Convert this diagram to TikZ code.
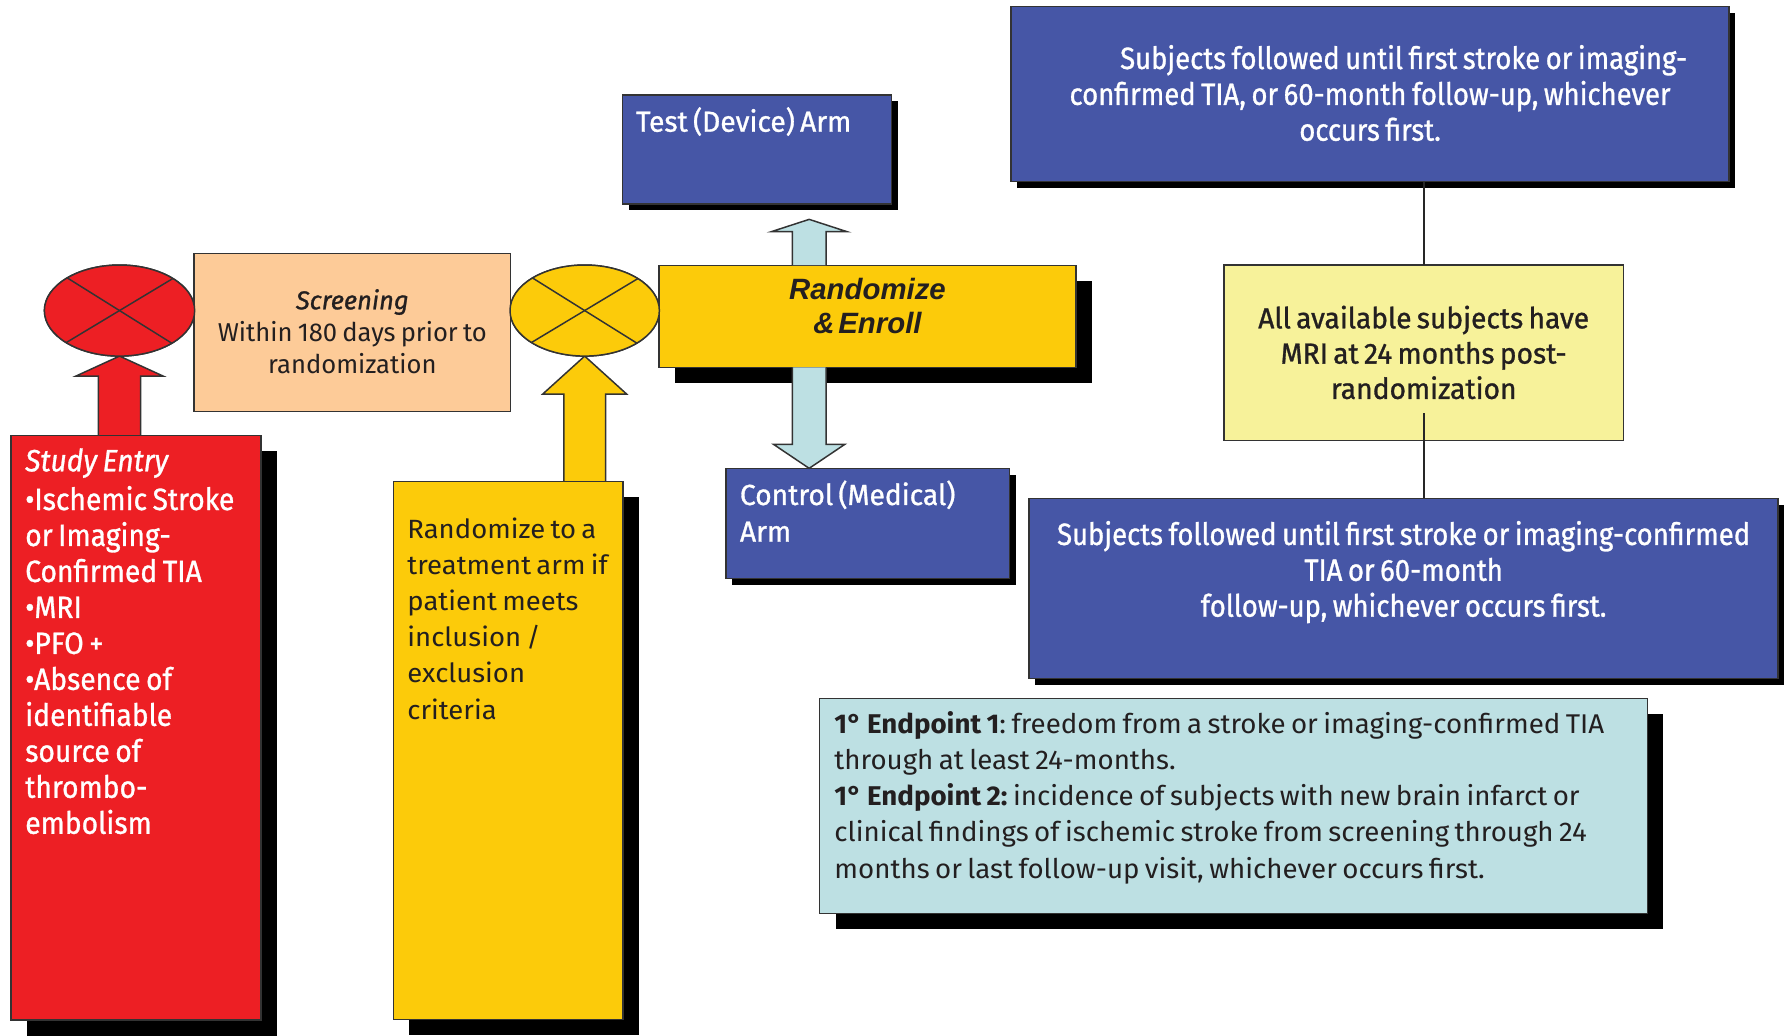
\documentclass[tikz,border=0pt]{standalone}
\usepackage{fontspec}
\setmainfont{Fira Sans}
\newfontfamily\whitef[FakeStretch=0.894,FakeBold=1]{Fira Sans}
\newfontfamily\redf[FakeStretch=0.919,FakeBold=1]{Fira Sans}
\newfontfamily\armf[FakeStretch=0.972,FakeBold=1]{Fira Sans}
\newfontfamily\widef[FakeStretch=1.022]{Fira Sans}
\newfontfamily\tallf[FakeStretch=1.04]{Fira Sans}
\newfontfamily\scrf[FakeStretch=0.99]{Fira Sans}
\newfontfamily\medf[FakeStretch=0.99,FakeBold=1]{Fira Sans}
\newfontfamily\arialf{Liberation Sans}
\newcommand\setsp[1]{\spaceskip=#1\relax\xspaceskip=#1\relax}
\usetikzlibrary{shapes.geometric,shadows,calc}

\definecolor{cred}{HTML}{ED1F24}
\definecolor{cpeach}{HTML}{FDCB98}
\definecolor{cgold}{HTML}{FCCB0A}
\definecolor{cblue}{HTML}{4656A6}
\definecolor{clyel}{HTML}{F7F29A}
\definecolor{clblue}{HTML}{BDE0E3}
\definecolor{ctext}{HTML}{231F20}
\definecolor{cedge}{HTML}{333333}

\begin{document}
\begin{tikzpicture}[x=1pt,y=-1pt,
  box/.style={draw=cedge, line width=1.3pt, anchor=north west, inner sep=0pt, outer sep=0pt},
  bigshadow/.style={drop shadow={shadow xshift=14pt, shadow yshift=-14pt, opacity=1, fill=black}},
  smallshadow/.style={drop shadow={shadow xshift=5.5pt, shadow yshift=-5.5pt, opacity=1, fill=black}},
  oval/.style={ellipse, draw=cedge, line width=1.3pt, inner sep=0pt, outer sep=0pt},
  blockarrow/.style={draw=cedge, line width=1.3pt, line join=miter},
  cross/.style={draw=cedge, line width=1.3pt},
  link/.style={draw=black!85, line width=1.5pt},
  txt/.style={inner sep=0pt, outer sep=0pt, anchor=base west, align=left},
  ctxt/.style={inner sep=0pt, outer sep=0pt, anchor=base, align=center},
]
\useasboundingbox (0,0) rectangle (1568,910);
\fill[white] (0,0) rectangle (1568,910);

% ---------- block arrows drawn below boxes ----------
\node[oval, minimum width=132pt, minimum height=80pt] (redell) at (105,272.8) {};
\node[oval, minimum width=131.2pt, minimum height=80pt] (yelell) at (513.6,272.8) {};
\path (0,382.5) coordinate (entrytop);
\path (0,422.8) coordinate (ytalltop);

\draw[blockarrow, fill=cred]
  ($(redell.south |- entrytop)+(-18.5,0)$) -- ($(redell.south)+(-18.5,17.6)$)
  -- ($(redell.south)+(-38.4,17.6)$) -- (redell.south)
  -- ($(redell.south)+(38.4,17.6)$) -- ($(redell.south)+(18.5,17.6)$)
  -- ($(redell.south |- entrytop)+(18.5,0)$);
\draw[blockarrow, fill=cgold]
  ($(yelell.south |- ytalltop)+(-18.3,0)$) -- ($(yelell.south)+(-18.3,33.4)$)
  -- ($(yelell.south)+(-36.9,33.4)$) -- (yelell.south)
  -- ($(yelell.south)+(36.9,33.4)$) -- ($(yelell.south)+(18.3,33.4)$)
  -- ($(yelell.south |- ytalltop)+(18.3,0)$);

% ---------- boxes ----------
\node[box, fill=cred, bigshadow, minimum width=219.8pt, minimum height=513.5pt] (entry) at (9.5,382.5) {};
\node[box, fill=cgold, bigshadow, minimum width=201.8pt, minimum height=472.7pt] (ytall) at (345.5,422.8) {};
\node[box, fill=cpeach, minimum width=278.2pt, minimum height=139.1pt] (screen) at (170.4,222.5) {};
\node[box, fill=cgold, bigshadow, minimum width=366pt, minimum height=89.6pt] (randz) at (579,233) {};
\node[box, fill=cblue, smallshadow, minimum width=236.6pt, minimum height=95.7pt] (test) at (546.7,83.5) {};
\node[box, fill=cblue, smallshadow, minimum width=248.9pt, minimum height=96.6pt] (ctrl) at (637.7,411.4) {};
\node[box, fill=cblue, smallshadow, minimum width=630.7pt, minimum height=153.7pt] (follow1) at (888,5.9) {};
\node[box, fill=clyel, minimum width=350.8pt, minimum height=154.2pt] (mri) at (1075.2,232.8) {};
\node[box, fill=cblue, smallshadow, minimum width=658pt, minimum height=158.2pt] (follow2) at (904,437.7) {};
\node[box, fill=clblue, bigshadow, minimum width=727pt, minimum height=188.9pt] (endp) at (720,613.4) {};

% ellipses on top
\node[oval, fill=cred, minimum width=132pt, minimum height=80pt] (redell2) at (redell.center) {};
\node[oval, fill=cgold, minimum width=131.2pt, minimum height=80pt] (yelell2) at (yelell.center) {};
\draw[cross] (redell2.31.2) -- (redell2.211.2);
\draw[cross] (redell2.148.8) -- (redell2.328.8);
\draw[cross] (yelell2.31.4) -- (yelell2.211.4);
\draw[cross] (yelell2.148.6) -- (yelell2.328.6);

% ---------- light blue arrows ----------
\coordinate (armx) at (710.8,0);
\draw[blockarrow, fill=clblue]
  ($(armx |- randz.north)+(-14.8,0)$) -- ($(armx |- test.south)+(-14.8,24.3)$)
  -- ($(armx |- test.south)+(-33.2,24.3)$) -- ($(armx |- test.south)+(0,13.5)$)
  -- ($(armx |- test.south)+(33.2,24.3)$) -- ($(armx |- test.south)+(14.8,24.3)$)
  -- ($(armx |- randz.north)+(14.8,0)$);
\draw[blockarrow, fill=clblue]
  ($(armx |- randz.south)+(-14.8,0)$) -- ($(armx |- ctrl.north)+(-14.8,-21)$)
  -- ($(armx |- ctrl.north)+(-31.2,-21)$) -- (armx |- ctrl.north)
  -- ($(armx |- ctrl.north)+(31.2,-21)$) -- ($(armx |- ctrl.north)+(14.8,-21)$)
  -- ($(armx |- randz.south)+(14.8,0)$);

% ---------- connector lines ----------
\draw[link] (mri.north) -- (mri.north |- follow1.south);
\coordinate (mrilow) at ($(mri.north)+(0,130)$);
\draw[link] (mrilow) -- (mrilow |- follow2.north);

% ---------- texts ----------
\node[txt, text width=215pt, text=white] (entryT) at (22.2,414)
  {\redf\fontsize{27}{31.6}\selectfont\setsp{4.86pt}{\itshape Study Entry}\\[2.4pt]
   •Ischemic Stroke\\or Imaging-\\Confirmed TIA\\•MRI\\•PFO +\\•Absence of\\identifiable\\source of\\thrombo-\\embolism\par};

\node[txt, text width=200pt, text=ctext] (ytallT) at (357.9,473.1)
  {\tallf\fontsize{23.2}{31.7}\selectfont\setsp{4.64pt}Randomize to a\\treatment arm if\\patient meets\\inclusion /\\exclusion\\criteria\par};

\node[ctxt, text width=270pt, text=ctext] (screenT) at (309.5,271.7)
  {\scrf\fontsize{22.7}{28.2}\selectfont\setsp{4.54pt}{\medf\itshape Screening}\\Within 180 days prior to\\randomization\par};

\node[ctxt, text width=340pt, text=ctext] (randzT) at (762,263.5)
  {\arialf\bfseries\itshape\fontsize{25.8}{29.1}\selectfont Randomize\\\& Enroll\par};

\node[txt, text width=230pt, text=white] (testT) at (558.7,115.7)
  {\armf\fontsize{25.5}{32}\selectfont\setsp{4.6pt}Test (Device) Arm\par};

\node[txt, text width=240pt, text=white] (ctrlT) at (650,443.6)
  {\armf\fontsize{25.5}{32.2}\selectfont\setsp{4.6pt}Control (Medical)\\Arm\par};

\node[ctxt, text width=640pt, text=white] (follow1T) at (1203.5,60.6)
  {\whitef\fontsize{27}{31.5}\selectfont\setsp{4.86pt}\hspace*{59pt}Subjects followed until first stroke or imaging-\\confirmed TIA, or 60-month follow-up, whichever\\occurs first.\par};

\node[ctxt, text width=360pt, text=ctext] (mriT) at (1250.6,288.4)
  {\armf\fontsize{25.5}{31}\selectfont\setsp{4.6pt}All available subjects have\\MRI at 24 months post-\\randomization\par};

\node[ctxt, text width=690pt, text=white] (follow2T) at (1233,478.7)
  {\whitef\fontsize{27}{31.5}\selectfont\setsp{4.86pt}Subjects followed until first stroke or imaging-confirmed\\TIA or 60-month\\follow-up, whichever occurs first.\par};

\node[txt, text width=740pt, text=ctext] (endpT) at (733,644.2)
  {\widef\fontsize{23.8}{31.8}\selectfont\setsp{4.76pt}\textbf{1° Endpoint 1}: freedom from a stroke or imaging-confirmed TIA\\through at least 24-months.\\\textbf{1° Endpoint 2:} incidence of subjects with new brain infarct or\\clinical findings of ischemic stroke from screening through 24\\months or last follow-up visit, whichever occurs first.\par};
\end{tikzpicture}
\end{document}
